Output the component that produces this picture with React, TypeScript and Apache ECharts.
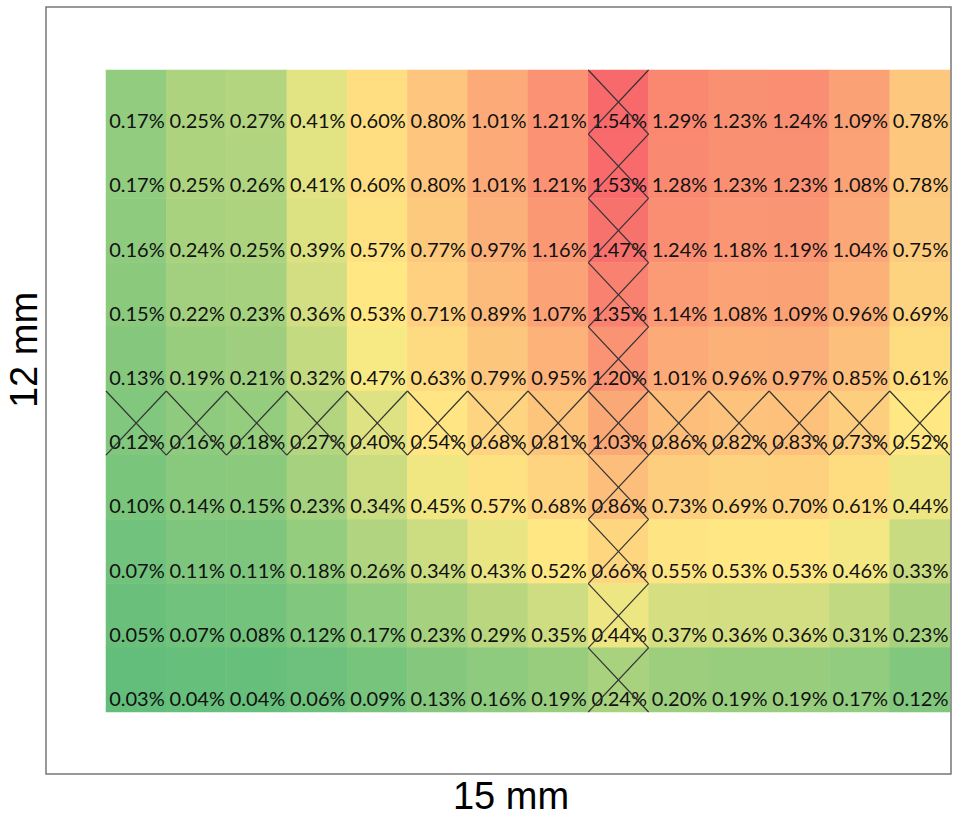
import React, { useEffect, useRef } from "react";
import * as echarts from "echarts";

const colLabels = ["1", "2", "3", "4", "5", "6", "7", "8", "9", "10", "11", "12", "13", "14"];
const rowLabels = ["1", "2", "3", "4", "5", "6", "7", "8", "9", "10"];

const row1 = [0.17, 0.25, 0.27, 0.41, 0.60, 0.80, 1.01, 1.21, 1.54, 1.29, 1.23, 1.24, 1.09, 0.78];
const row2 = [0.17, 0.25, 0.26, 0.41, 0.60, 0.80, 1.01, 1.21, 1.53, 1.28, 1.23, 1.23, 1.08, 0.78];
const row3 = [0.16, 0.24, 0.25, 0.39, 0.57, 0.77, 0.97, 1.16, 1.47, 1.24, 1.18, 1.19, 1.04, 0.75];
const row4 = [0.15, 0.22, 0.23, 0.36, 0.53, 0.71, 0.89, 1.07, 1.35, 1.14, 1.08, 1.09, 0.96, 0.69];
const row5 = [0.13, 0.19, 0.21, 0.32, 0.47, 0.63, 0.79, 0.95, 1.20, 1.01, 0.96, 0.97, 0.85, 0.61];
const row6 = [0.12, 0.16, 0.18, 0.27, 0.40, 0.54, 0.68, 0.81, 1.03, 0.86, 0.82, 0.83, 0.73, 0.52];
const row7 = [0.10, 0.14, 0.15, 0.23, 0.34, 0.45, 0.57, 0.68, 0.86, 0.73, 0.69, 0.70, 0.61, 0.44];
const row8 = [0.07, 0.11, 0.11, 0.18, 0.26, 0.34, 0.43, 0.52, 0.66, 0.55, 0.53, 0.53, 0.46, 0.33];
const row9 = [0.05, 0.07, 0.08, 0.12, 0.17, 0.23, 0.29, 0.35, 0.44, 0.37, 0.36, 0.36, 0.31, 0.23];
const row10 = [0.03, 0.04, 0.04, 0.06, 0.09, 0.13, 0.16, 0.19, 0.24, 0.20, 0.19, 0.19, 0.17, 0.12];

const rows = [row1, row2, row3, row4, row5, row6, row7, row8, row9, row10];

// cells crossed out (diagonals drawn)
const crossedColumns = [8];
const crossedRows = [5];

const xTitle = "15 mm";
const yTitle = "12 mm";

const scaleColors = ["#63BE7B", "#FFEB84", "#F8696B"];

export default function App() {
  const ref = useRef<HTMLDivElement>(null);
  useEffect(() => {
    if (!ref.current) return;
    const chart = echarts.init(ref.current, null, { renderer: "svg" });

    const all = rows.flat().slice().sort((a, b) => a - b);
    const n = all.length;
    const median = n % 2 === 0 ? (all[n / 2 - 1] + all[n / 2]) / 2 : all[(n - 1) / 2];
    const vMin = all[0];
    const vMax = all[n - 1];
    // position on the 3-colour scale (min -> 0, median -> 0.5, max -> 1)
    const scalePos = (v: number) =>
      v <= median ? 0.5 * (v - vMin) / (median - vMin) : 0.5 + 0.5 * (v - median) / (vMax - median);

    const heatData: number[][] = [];
    rows.forEach((r, yi) =>
      r.forEach((v, xi) => {
        heatData.push([xi, yi, v, scalePos(v)]);
      })
    );

    const crossData: number[][] = [];
    rows.forEach((r, yi) =>
      r.forEach((_v, xi) => {
        if (crossedColumns.includes(xi) || crossedRows.includes(yi)) crossData.push([xi, yi]);
      })
    );

    chart.setOption({
      animation: false,
      grid: { left: 106, top: 70, width: 844, height: 642, containLabel: false },
      xAxis: {
        type: "category",
        data: colLabels,
        show: false,
      },
      yAxis: {
        type: "category",
        data: rowLabels,
        inverse: true,
        show: false,
      },
      visualMap: {
        type: "continuous",
        show: false,
        seriesIndex: 0,
        dimension: 3,
        min: 0,
        max: 1,
        inRange: { color: scaleColors },
      },
      graphic: [
        {
          type: "rect",
          shape: { x: 46, y: 7, width: 905, height: 767 },
          style: { fill: "none", stroke: "#777777", lineWidth: 1.5 },
          silent: true,
          z: 100,
        },
        {
          type: "text",
          x: 511,
          y: 796,
          style: {
            text: xTitle,
            font: "38px 'Liberation Sans', Arial, sans-serif",
            fill: "#000000",
            align: "center",
            verticalAlign: "middle",
          },
        },
        {
          type: "text",
          x: 24,
          y: 350,
          rotation: Math.PI / 2,
          style: {
            text: yTitle,
            font: "38px 'Liberation Sans', Arial, sans-serif",
            fill: "#000000",
            align: "center",
            verticalAlign: "middle",
          },
        },
      ],
      series: [
        {
          type: "heatmap",
          data: heatData,
          label: {
            show: true,
            position: ["97%", "78%"],
            align: "right",
            verticalAlign: "middle",
            fontFamily: "Lato, 'Noto Sans', sans-serif",
            fontSize: 20,
            color: "#111111",
            formatter: (p: any) => p.value[2].toFixed(2) + "%",
          },
          itemStyle: { borderWidth: 0 },
          emphasis: { disabled: true },
        },
        {
          type: "custom",
          data: crossData,
          z: 10,
          silent: true,
          renderItem: (_params: any, api: any) => {
            const c = api.coord([api.value(0), api.value(1)]);
            const s = api.size([1, 1]);
            const x0 = c[0] - s[0] / 2;
            const x1 = c[0] + s[0] / 2;
            const y0 = c[1] - s[1] / 2;
            const y1 = c[1] + s[1] / 2;
            const style = { stroke: "#333333", lineWidth: 1.2 };
            return {
              type: "group",
              children: [
                { type: "line", shape: { x1: x0, y1: y0, x2: x1, y2: y1 }, style },
                { type: "line", shape: { x1: x1, y1: y0, x2: x0, y2: y1 }, style },
              ],
            };
          },
        },
      ],
    });
    return () => chart.dispose();
  }, []);
  return (
    <div
      ref={ref}
      style={{ position: "fixed", left: 0, top: 0, width: 954, height: 817, background: "#ffffff" }}
    />
  );
}
